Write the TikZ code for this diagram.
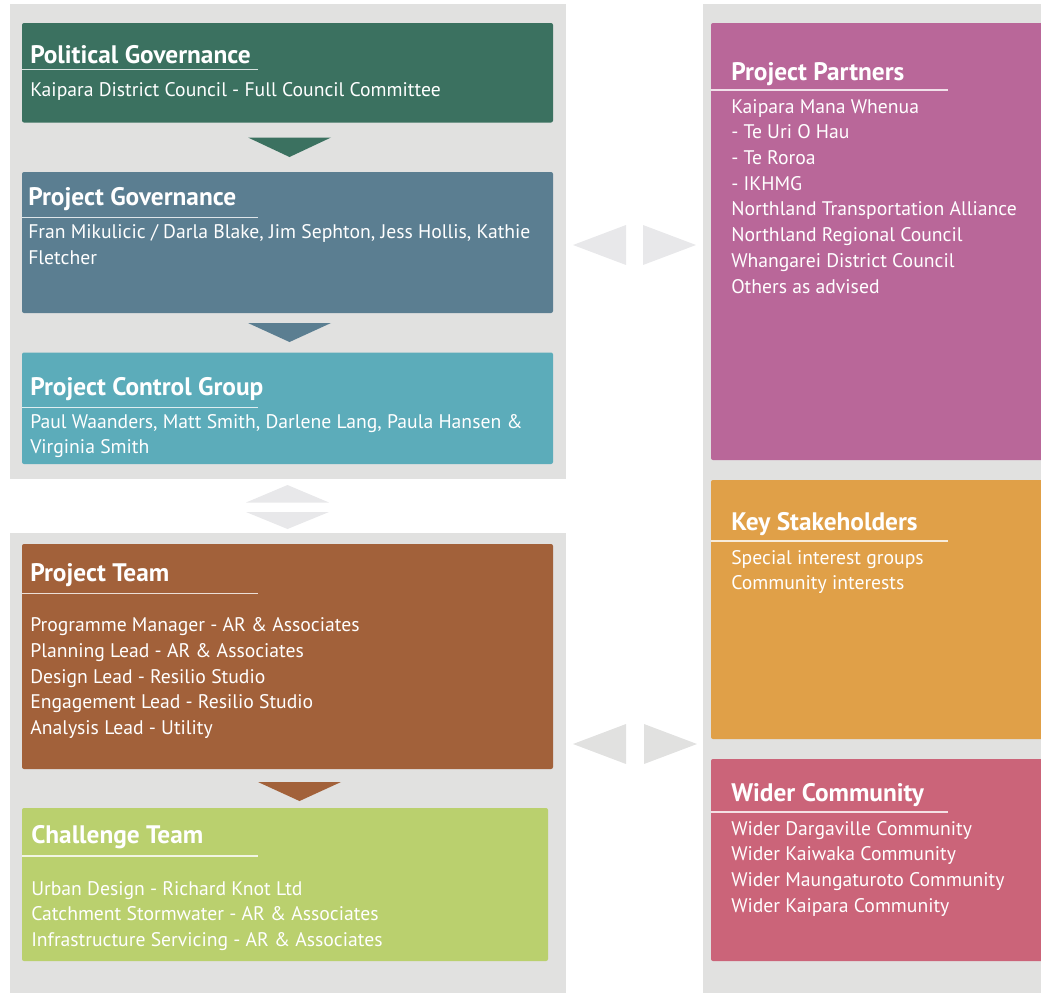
\documentclass[tikz,border=0pt]{standalone}
\usepackage{fontspec}
\setmainfont{PT Sans}
\definecolor{panel}{HTML}{E1E1E0}
\definecolor{arrowg}{HTML}{E8E8EA}
\definecolor{cPol}{HTML}{3B7160}
\definecolor{cGov}{HTML}{5B7E91}
\definecolor{cPCG}{HTML}{5CACBA}
\definecolor{cTeam}{HTML}{A2613A}
\definecolor{cChal}{HTML}{BAD06E}
\definecolor{cPart}{HTML}{B96799}
\definecolor{cKey}{HTML}{E0A048}
\definecolor{cWid}{HTML}{CB6479}
\tikzset{
  boxshape/.style={draw=none, inner sep=0pt, outer sep=0pt, rounded corners=1.5pt, anchor=north west},
  ttl/.style={text=white, font=\fontsize{19}{22}\selectfont\bfseries, inner sep=0pt, anchor=base west},
  bodytxt/.style={text=white, font=\fontsize{14.75}{19.3}\selectfont, inner sep=0pt, anchor=base west},
  uline/.style={white, opacity=0.8, line width=0.9pt},
}
\newcommand\mybox[6]{%
  \pgfmathsetmacro\bw{(#4-#2)*0.75}\pgfmathsetmacro\bh{(#5-#3)*0.75}%
  \node[boxshape, fill=#6, minimum width=\bw pt, minimum height=\bh pt] (#1) at (#2,#3) {};}
\newcommand\lns[1]{\begin{tabular}[t]{@{}l@{}}#1\end{tabular}}
\begin{document}
\begin{tikzpicture}[x=0.75pt, y=-0.75pt]
\useasboundingbox (0,0) rectangle (1041,993);
% panels
\fill[panel] (10,4) rectangle (566,479);
\fill[panel] (10,533) rectangle (566,993);
\fill[panel] (703,4) rectangle (1041,993);
% boxes
\mybox{pol}{22}{23}{553}{122.5}{cPol}
\mybox{gov}{22}{172}{553}{313}{cGov}
\mybox{pcg}{22}{352.5}{553}{464}{cPCG}
\mybox{team}{22}{544}{553}{769}{cTeam}
\mybox{chal}{22}{808}{548}{961}{cChal}
\mybox{part}{711}{23}{1045}{460}{cPart}
\mybox{key}{711}{480}{1045}{739}{cKey}
\mybox{wid}{711}{759}{1045}{961}{cWid}
% titles and bodies
\node[ttl] (pol-t) at (30,63.3) {Political Governance};
\draw[uline] (22,69.3) -- (258,69.3);
\node[bodytxt] (pol-b) at (30,96.7) {\lns{Kaipara District Council - Full Council Committee}};

\node[ttl] (gov-t) at (28,205) {Project Governance};
\draw[uline] (22,217.5) -- (258,217.5);
\node[bodytxt] (gov-b) at (28,238.5) {\lns{Fran Mikulicic / Darla Blake, Jim Sephton, Jess Hollis, Kathie\\Fletcher}};

\node[ttl] (pcg-t) at (30,395) {Project Control Group};
\draw[uline] (22,407.5) -- (258,407.5);
\node[bodytxt] (pcg-b) at (30,428) {\lns{Paul Waanders, Matt Smith, Darlene Lang, Paula Hansen \&\\Virginia Smith}};

\node[ttl] (team-t) at (30,581.7) {Project Team};
\draw[uline] (22,593.5) -- (258,593.5);
\node[bodytxt] (team-b) at (30,631.7) {\lns{Programme Manager - AR \& Associates\\Planning Lead - AR \& Associates\\Design Lead - Resilio Studio\\Engagement Lead - Resilio Studio\\Analysis Lead - Utility}};

\node[ttl] (chal-t) at (31,843) {Challenge Team};
\draw[uline] (22,856) -- (258,856);
\node[bodytxt] (chal-b) at (31,895) {\lns{Urban Design - Richard Knot Ltd\\Catchment Stormwater - AR \& Associates\\Infrastructure Servicing - AR \& Associates}};

\node[ttl] (part-t) at (731,80) {Project Partners};
\draw[uline] (711,90) -- (948,90);
\node[bodytxt] (part-b) at (731,113) {\lns{Kaipara Mana Whenua\\- Te Uri O Hau\\- Te Roroa\\- IKHMG\\Northland Transportation Alliance\\Northland Regional Council\\Whangarei District Council\\Others as advised}};

\node[ttl] (key-t) at (731,530.7) {Key Stakeholders};
\draw[uline] (711,541) -- (948,541);
\node[bodytxt] (key-b) at (731,564) {\lns{Special interest groups\\Community interests}};

\node[ttl] (wid-t) at (731,801.7) {Wider Community};
\draw[uline] (711,812) -- (948,812);
\node[bodytxt] (wid-b) at (731,835) {\lns{Wider Dargaville Community\\Wider Kaiwaka Community\\Wider Maungaturoto Community\\Wider Kaipara Community}};

% down triangles
\fill[cPol] (248,137.5) -- (331,137.5) -- (289.5,157) -- cycle;
\fill[cGov] (248,323) -- (331,323) -- (289.5,342) -- cycle;
\fill[cTeam] (258,782) -- (341,782) -- (299.5,801) -- cycle;
% up/down between left panels
\fill[arrowg] (246,502.5) -- (329,502.5) -- (287.5,485) -- cycle;
\fill[arrowg] (246,512) -- (329,512) -- (287.5,529) -- cycle;
% left/right arrows
\fill[arrowg] (626,225) -- (626,265) -- (573,245) -- cycle;
\fill[arrowg] (643,225) -- (643,265) -- (696,245) -- cycle;
\fill[panel] (626,724) -- (626,764) -- (573,744) -- cycle;
\fill[panel] (644,724) -- (644,764) -- (697,744) -- cycle;
\end{tikzpicture}
\end{document}
